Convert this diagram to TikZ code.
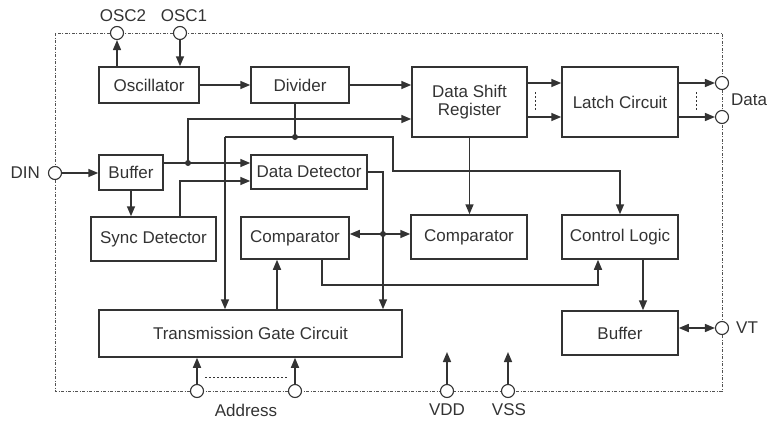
\documentclass[tikz,border=0pt]{standalone}
\usepackage{fontspec}
\setmainfont{Liberation Sans}
\usetikzlibrary{arrows.meta}
\definecolor{ink}{HTML}{333333}
\tikzset{
  blk/.style={draw=ink, line width=1.5pt, fill=white, inner sep=0pt, align=center, text=ink},
  pin/.style={circle, draw=ink, line width=1.1pt, fill=white, minimum size=13pt, inner sep=0pt},
  lbl/.style={text=ink, inner sep=0pt},
  wire/.style={draw=ink, line width=1.5pt},
  arr/.style={wire, -{Triangle[length=10pt,width=8pt]}},
  dblarr/.style={wire, {Triangle[length=10pt,width=8pt]}-{Triangle[length=10pt,width=8pt]}},
  dotj/.style={circle, fill=ink, minimum size=6pt, inner sep=0pt},
  bound/.style={draw=ink!85, line width=1pt, dash pattern=on 3pt off 1.5pt on 1pt off 1.5pt},
  dots/.style={draw=ink, line width=1pt, dash pattern=on 2pt off 2pt},
}
\begin{document}
\begin{tikzpicture}[x=1pt, y=-1pt, font=\fontsize{17}{17.5}\selectfont]
\useasboundingbox (0,0) rectangle (772,423);
% boundary
\draw[bound] (55,33) rectangle (722,391);
% blocks
\node[blk, minimum width=100pt, minimum height=36pt] (osc) at (149,85) {Oscillator};
\node[blk, minimum width=98pt, minimum height=36pt] (div) at (300,85) {Divider};
\node[blk, minimum width=115pt, minimum height=70pt] (dsr) at (469.5,102) {Data Shift\\Register};
\node[blk, minimum width=116pt, minimum height=70pt] (latch) at (620,102) {Latch Circuit};
\node[blk, minimum width=64pt, minimum height=35pt] (buf) at (131,172.5) {Buffer};
\node[blk, minimum width=116pt, minimum height=34pt] (dd) at (309,172) {Data Detector};
\node[blk, minimum width=125pt, minimum height=44pt] (sync) at (153.5,239) {Sync Detector};
\node[blk, minimum width=108pt, minimum height=42pt] (comp1) at (295,238) {Comparator};
\node[blk, minimum width=116pt, minimum height=44pt] (comp2) at (469,237) {Comparator};
\node[blk, minimum width=116pt, minimum height=44pt] (ctrl) at (620,237) {Control Logic};
\node[blk, minimum width=303pt, minimum height=47pt] (tgc) at (250.5,333.5) {Transmission Gate Circuit};
\node[blk, minimum width=116pt, minimum height=44pt] (buf2) at (620,333) {Buffer};
% pins
\node[pin] (osc2) at (117,33) {};
\node[pin] (osc1) at (180,33) {};
\node[pin] (din) at (55,173) {};
\node[pin] (data1) at (722,83) {};
\node[pin] (data2) at (722,117) {};
\node[pin] (vt) at (722,328) {};
\node[pin] (addr1) at (197,391) {};
\node[pin] (addr2) at (295,391) {};
\node[pin] (vdd) at (447,391) {};
\node[pin] (vss) at (508,391) {};
% labels
\node[lbl] (losc2) at (123,16) {OSC2};
\node[lbl] (losc1) at (184,16) {OSC1};
\node[lbl, anchor=east] (ldin) at (40,173) {DIN};
\node[lbl, anchor=west] (ldata) at (731,100) {Data};
\node[lbl, anchor=west] (lvt) at (736,328) {VT};
\node[lbl] (laddr) at (246,410) {Address};
\node[lbl] (lvdd) at (447,410) {VDD};
\node[lbl] (lvss) at (509,410) {VSS};
% junction coordinates
\coordinate (j1) at (295,137);
\coordinate (j2) at (188,163);
\coordinate (j3) at (383,234);
\coordinate (c1) at (225,137);
\coordinate (c2) at (393,137);
\coordinate (c3) at (393,171);
\coordinate (c4) at (188,119);
\coordinate (c5) at (180,181);
\coordinate (c7) at (322,285);
\coordinate (c8) at (598,285);
\coordinate (c9) at (277,300);
\coordinate (vddend) at (447,352);
\coordinate (vssend) at (508,352);
% connectors
\draw[arr] (osc.north -| osc2) -- (osc2.south);
\draw[arr] (osc1.south) -- (osc.north -| osc1);
\draw[arr] (osc.east) -- (div.west);
\draw[arr] (div.east) -- (div.east -| dsr.west);
\draw[wire] (div.south -| j1) -- (j1);
\draw[arr] (c1) -- (c1 |- tgc.north);
\draw[arr] (c1) -- (c2) -- (c3) -| (ctrl.north);
\draw[arr] (din.east) -- (buf.west |- din);
\draw[arr] (buf.east |- j2) -- (dd.west |- j2);
\draw[arr] (j2) -- (c4) -- (c4 -| dsr.west);
\draw[arr] (buf.south) -- (buf.south |- sync.north);
\draw[arr] (sync.north -| c5) -- (c5) -- (c5 -| dd.west);
\draw[arr] (dd.east) -| (tgc.north -| j3);
\draw[arr] (j3) -- (comp1.east |- j3);
\draw[arr] (j3) -- (comp2.west |- j3);
\draw[arr] (dsr.south) -- (dsr.south |- comp2.north);
\draw[arr] (comp1.south -| c7) -- (c7) -- (c8) -- (ctrl.south -| c8);
\draw[arr] (tgc.north -| c9) -- (comp1.south -| c9);
\draw[arr] ([xshift=23pt]ctrl.south) -- ([xshift=23pt]buf2.north);
\draw[dblarr] (buf2.east |- vt) -- (vt.west);
\draw[arr] (dsr.east |- data1) -- (latch.west |- data1);
\draw[arr] (dsr.east |- data2) -- (latch.west |- data2);
\draw[arr] (latch.east |- data1) -- (data1.west);
\draw[arr] (latch.east |- data2) -- (data2.west);
\draw[arr] (addr1.north) -- (addr1 |- tgc.south);
\draw[arr] (addr2.north) -- (addr2 |- tgc.south);
\draw[arr] (vdd.north) -- (vddend);
\draw[arr] (vss.north) -- (vssend);
% dotted markers
\draw[dots] (535,92) -- (535,111);
\draw[dots] (696,92) -- (696,111);
\draw[dots] (205,377) -- (287,377);
% dots
\node[dotj] at (j1) {};
\node[dotj] at (j2) {};
\node[dotj] at (j3) {};
\end{tikzpicture}
\end{document}
